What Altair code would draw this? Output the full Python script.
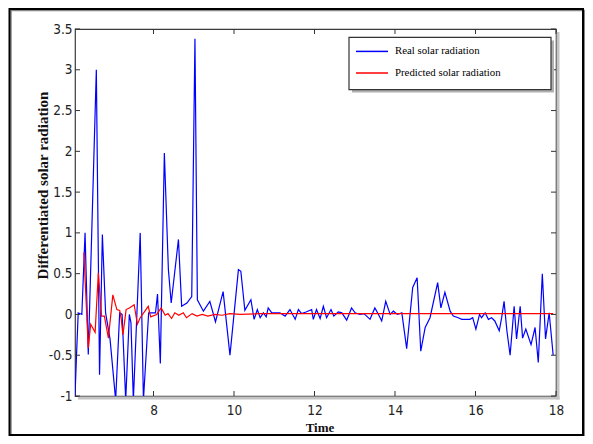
import altair as alt
import pandas as pd

# ---------------- data ----------------
real_x = [6.05, 6.09, 6.13, 6.22, 6.30, 6.38, 6.58, 6.66, 6.73, 6.81, 6.92, 7.06,
          7.16, 7.22, 7.31, 7.40, 7.44, 7.50, 7.67, 7.75, 7.88, 8.05, 8.10, 8.17,
          8.27, 8.37, 8.44, 8.62, 8.70, 8.83, 8.95, 9.03, 9.09, 9.24, 9.40, 9.54,
          9.73, 9.90, 10.11, 10.17, 10.27, 10.42, 10.50, 10.58, 10.65, 10.73, 10.80,
          10.85, 10.94, 11.14, 11.27, 11.39, 11.52, 11.60, 11.68, 11.79, 11.93, 11.97,
          12.05, 12.14, 12.22, 12.30, 12.41, 12.48, 12.59, 12.68, 12.80, 12.92, 13.01,
          13.13, 13.23, 13.38, 13.50, 13.59, 13.67, 13.77, 13.88, 13.96, 14.06, 14.17,
          14.29, 14.44, 14.55, 14.64, 14.75, 14.87, 15.06, 15.14, 15.24, 15.37, 15.45,
          15.57, 15.66, 15.76, 15.86, 15.93, 16.01, 16.10, 16.15, 16.24, 16.32, 16.40,
          16.48, 16.59, 16.65, 16.71, 16.78, 16.86, 16.96, 17.02, 17.11, 17.17, 17.25,
          17.38, 17.48, 17.56, 17.66, 17.74, 17.83, 17.93]
real_y = [-1.0, -0.47, 0.02, 0.0, 1.0, -0.49, 3.0, -0.74, 0.98, 0.02, -0.3, -1.05,
          0.02, 0.0, -1.05, 0.0, -0.1, -1.05, 1.0, -1.05, 0.02, 0.02, 0.25, -0.6,
          1.98, 0.55, 0.14, 0.92, 0.1, 0.14, 0.22, 3.38, 0.18, 0.04, 0.16, -0.09,
          0.28, -0.5, 0.55, 0.53, 0.05, 0.18, -0.06, 0.06, -0.04, 0.02, -0.03,
          0.08, 0.02, 0.02, -0.02, 0.06, -0.06, 0.06, 0.01, 0.03, 0.06, -0.06,
          0.06, -0.05, 0.1, -0.04, 0.06, -0.02, 0.03, 0.02, -0.07, 0.08, 0.02,
          0.0, 0.01, -0.06, 0.08, 0.0, -0.08, 0.16, 0.0, 0.04, 0.0, 0.02,
          -0.42, 0.33, 0.45, -0.45, -0.16, -0.04, 0.39, 0.08, 0.27, 0.04, -0.02,
          -0.04, -0.06, -0.06, -0.06, -0.04, -0.18, 0.0, -0.04, 0.02, -0.06, -0.04,
          -0.08, -0.2, -0.04, 0.16, -0.2, -0.5, 0.1, -0.3, 0.1, -0.29, -0.18,
          -0.37, -0.16, -0.59, 0.5, -0.3, 0.02, -0.5]

pred_x = [6.27, 6.38, 6.44, 6.55, 6.63, 6.71, 6.78, 6.88, 6.99, 7.09, 7.16, 7.20,
          7.24, 7.32, 7.40, 7.52, 7.60, 7.67, 7.87, 7.93, 8.08, 8.19, 8.29, 8.36,
          8.45, 8.53, 8.63, 8.74, 8.82, 8.96, 9.08, 9.21, 9.35, 9.53, 9.70, 9.90,
          10.15, 10.65, 12.0, 14.0, 16.0, 17.93]
pred_y = [0.76, -0.41, -0.12, -0.22, 0.51, -0.02, -0.02, -0.29, 0.24, 0.06, 0.05, -0.06,
          -0.25, 0.06, 0.08, 0.12, -0.12, -0.04, 0.10, -0.03, 0.0, 0.08, -0.01, 0.01,
          -0.05, 0.02, -0.01, 0.02, -0.04, 0.01, -0.02, 0.0, -0.02, 0.0, -0.01, 0.01,
          0.0, 0.01, 0.01, 0.01, 0.01, 0.01]

x_ticks = [8, 10, 12, 14, 16, 18]
y_ticks = [-1, -0.5, 0, 0.5, 1, 1.5, 2, 2.5, 3, 3.5]
series_names = ["Real solar radiation", "Predicted solar radiation"]
series_colors = ["#0000ff", "#ff0000"]
x_title = "Time"
y_title = "Differentiated solar radiation"

# ---------------- layout / style ----------------
W, H = 481, 367
LAB = "'Liberation Sans Narrow', 'Arial Narrow', 'DejaVu Sans Condensed', 'Liberation Sans', sans-serif"
SER = "'Liberation Serif', 'DejaVu Serif', serif"

xs = alt.Scale(domain=[6.05, 18], nice=False, zero=False)
ys = alt.Scale(domain=[-1, 3.5], nice=False, zero=False)

real = pd.DataFrame({"x": real_x, "y": real_y})
pred = pd.DataFrame({"x": pred_x, "y": pred_y})
xt = pd.DataFrame({"x": x_ticks})
yt = pd.DataFrame({"y": y_ticks})
one = pd.DataFrame({"a": [0]})

x_axis = alt.Axis(values=x_ticks, title=x_title, titleFont=SER, titleFontSize=13,
                  titleFontWeight="bold", titleColor="#111", titleX=244.5, titleY=35,
                  titleBaseline="alphabetic", titleAlign="center",
                  labelPadding=7, labelFlush=False, labelOverlap=False,
                  labelExpr="'' + datum.value")
y_axis = alt.Axis(values=y_ticks, title=y_title, titleFont=SER, titleFontSize=15,
                  titleFontWeight="bold", titleColor="#111", titleAngle=270,
                  titleX=-33, titleY=156, titleAlign="center", titleBaseline="middle",
                  labelPadding=3, labelFlush=False, labelOverlap=False,
                  labelExpr="'' + datum.value")

X = alt.X("x:Q", scale=xs, axis=x_axis)
Y = alt.Y("y:Q", scale=ys, axis=y_axis)


def box(x1, x2, y1, y2, **kw):
    return alt.Chart(one).mark_rect(**kw).encode(
        x=alt.value(x1), x2=alt.value(x2), y=alt.value(y1), y2=alt.value(y2))


# outer frame (with a little shadow)
frame_shadow = box(-64, 509.5, -18.5, 407.5, fillOpacity=0, stroke="#888", strokeWidth=1.5)
frame = box(-65.5, 508, -20, 406, fillOpacity=0, stroke="#000", strokeWidth=2)

# plot-area shadow
sh_r = box(W + 0.6, W + 3.5, 3, H + 3.5, color="#c4c4c4")
sh_b = box(3, W + 3.5, H + 0.6, H + 3.5, color="#c4c4c4")

blue = alt.Chart(real).mark_line(color=series_colors[0], strokeWidth=1.2, clip=True).encode(
    x=X, y=Y, order="x:Q")
red = alt.Chart(pred).mark_line(color=series_colors[1], strokeWidth=1.2, clip=True).encode(
    x=X, y=Y, order="x:Q")

# inward ticks on all four sides
tk = dict(color="#333", strokeWidth=1)
t_bottom = alt.Chart(xt).mark_rule(**tk).encode(x=X, y=alt.value(H), y2=alt.value(H - 5))
t_top = alt.Chart(xt).mark_rule(**tk).encode(x=X, y=alt.value(0), y2=alt.value(5))
t_left = alt.Chart(yt).mark_rule(**tk).encode(y=Y, x=alt.value(0), x2=alt.value(5))
t_right = alt.Chart(yt).mark_rule(**tk).encode(y=Y, x=alt.value(W), x2=alt.value(W - 5))

# legend
lg_shadow = box(277, 479, 11.5, 63.5, color="#b0b0b0")
lg_box = box(274, 476, 8.4, 60.7, fill="#ffffff", stroke="#333", strokeWidth=1.2)
lg_items = []
for i, (name, col) in enumerate(zip(series_names, series_colors)):
    yy = 22.4 + i * 21.6
    lg_items.append(alt.Chart(one).mark_rule(color=col, strokeWidth=1.5).encode(
        x=alt.value(281), x2=alt.value(313), y=alt.value(yy)))
    lg_items.append(alt.Chart(one).mark_text(
        text=name, font=SER, fontSize=10.8, color="#000", align="left",
        baseline="middle").encode(x=alt.value(320), y=alt.value(yy)))

chart = alt.layer(
    frame_shadow, frame, sh_r, sh_b, blue, red,
    t_bottom, t_top, t_left, t_right, lg_shadow, lg_box, *lg_items
).properties(
    width=W, height=H,
    padding={"left": 67, "top": 21, "right": 29, "bottom": 40},
    autosize=alt.AutoSizeParams(type="none"),
    background="#ffffff",
).configure_view(
    stroke="#3a3a3a", strokeWidth=1.2
).configure_axis(
    domain=False, ticks=False, tickSize=0, grid=False,
    labelFont=LAB, labelFontSize=13.5, labelColor="#222"
)

chart.save("out.html", embed_options={"renderer": "svg", "actions": False})
